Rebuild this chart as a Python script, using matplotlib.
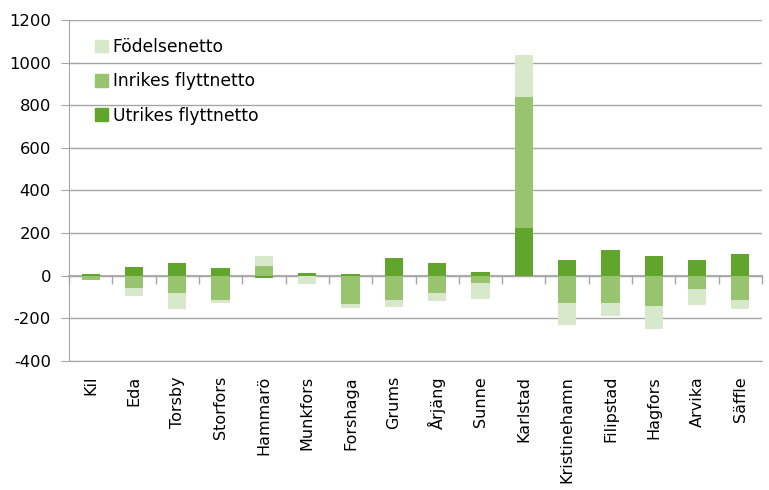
import numpy as np
import matplotlib as mpl
import matplotlib.pyplot as plt
from matplotlib.patches import Patch

mpl.rcParams['font.family'] = ['DejaVu Sans']
mpl.rcParams['axes.unicode_minus'] = False

kommuner = ['Kil', 'Eda', 'Torsby', 'Storfors', 'Hammarö', 'Munkfors',
            'Forshaga', 'Grums', 'Årjäng', 'Sunne', 'Karlstad',
            'Kristinehamn', 'Filipstad', 'Hagfors', 'Arvika', 'Säffle']

utrikes = [6, 38, 57, 34, -12, 11, 6, 80, 57, 15, 224, 75, 122, 94, 75, 99]
inrikes = [-20, -58, -82, -114, 43, 0, -132, -114, -82, -35, 614, -128, -128, -142, -63, -114]
fodelse = [-3, -37, -73, -14, 51, -40, -19, -32, -36, -74, 196, -106, -60, -111, -74, -42]

series = [
    ('Utrikes flyttnetto', utrikes, '#62a52d'),
    ('Inrikes flyttnetto', inrikes, '#98c36f'),
    ('Födelsenetto', fodelse, '#d7e8cb'),
]

fig = plt.figure(figsize=(7.69, 4.90), dpi=100)
ax = fig.add_axes([69 / 769, (490 - 360.7) / 490, (762 - 69) / 769, (360.7 - 20) / 490])

x = np.arange(len(kommuner))
pos_base = np.zeros(len(kommuner))
neg_base = np.zeros(len(kommuner))
for name, vals, color in series:
    vals = np.array(vals, dtype=float)
    base = np.where(vals >= 0, pos_base, neg_base)
    ax.bar(x, vals, bottom=base, width=0.42, color=color, zorder=3)
    pos_base += np.where(vals >= 0, vals, 0)
    neg_base += np.where(vals < 0, vals, 0)

ax.set_xlim(-0.5, len(kommuner) - 0.5)
ax.set_ylim(-400, 1200)
ax.set_yticks(np.arange(-400, 1201, 200))
ax.yaxis.grid(True, color='#a6a6a6', linewidth=1.0, zorder=0)
ax.tick_params(axis='y', direction='inout', length=12, color='#a6a6a6',
               labelsize=11.8, pad=7)

for s in ['top', 'right']:
    ax.spines[s].set_visible(False)
ax.spines['left'].set_color('#a6a6a6')
ax.spines['bottom'].set_color('#a6a6a6')

ax.set_xticks(x)
ax.set_xticklabels(kommuner, rotation=90, fontsize=11.5)
ax.tick_params(axis='x', length=0, pad=11)

# zero line with category boundary ticks
zero_ax = ax.secondary_xaxis(0, transform=ax.transData)
zero_ax.set_xticks(np.arange(-0.5, len(kommuner) + 0.5, 1.0))
zero_ax.set_xticklabels([])
zero_ax.tick_params(direction='out', length=6, color='#a6a6a6', width=1.0)
zero_ax.spines['bottom'].set_color('#b0b0b0')
zero_ax.spines['bottom'].set_linewidth(1.5)

handles = [Patch(color=c) for _, _, c in series][::-1]
labels = [n for n, _, _ in series][::-1]
ax.legend(handles, labels, loc='upper left', frameon=False, fontsize=12.3,
          handlelength=0.75, handleheight=0.75, handletextpad=0.3,
          labelspacing=0.95, bbox_to_anchor=(0.015, 0.992))

fig.savefig('out.png', dpi=100)
